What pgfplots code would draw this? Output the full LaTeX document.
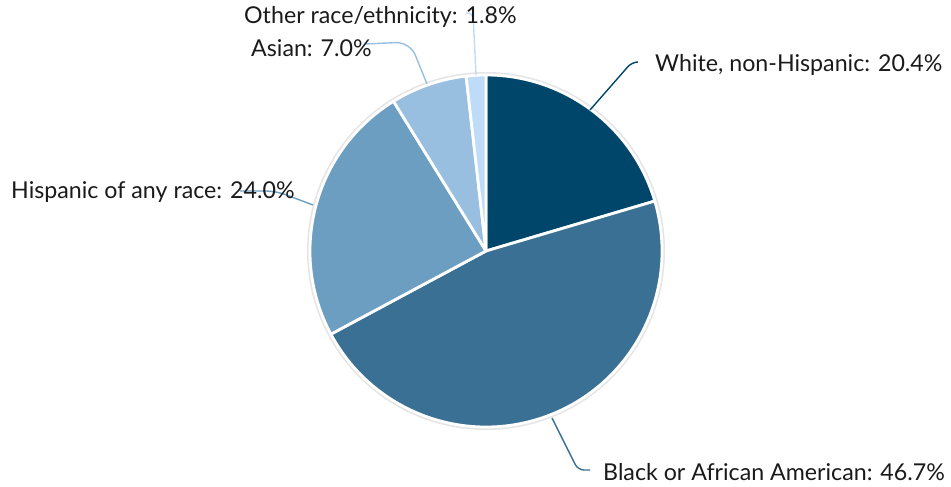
\documentclass[border=0pt]{standalone}
\usepackage{fontspec}
\setmainfont{Lato}
\usepackage{pgfplots}
\pgfplotsset{compat=1.18}
\definecolor{cW}{HTML}{00466A}
\definecolor{cB}{HTML}{3A7094}
\definecolor{cH}{HTML}{6B9EC0}
\definecolor{cA}{HTML}{98BEE0}
\definecolor{cO}{HTML}{BEDCF8}
\definecolor{txt}{HTML}{1A1A1A}
% shares (percent)
\def\vW{20.4}\def\vB{46.7}\def\vH{24.0}\def\vA{7.0}\def\vO{1.8}
\pgfmathsetmacro{\k}{360/(\vW+\vB+\vH+\vA+\vO)}
\pgfmathsetmacro{\aW}{90}
\pgfmathsetmacro{\aB}{\aW-\k*\vW}
\pgfmathsetmacro{\aH}{\aB-\k*\vB}
\pgfmathsetmacro{\aA}{\aH-\k*\vH}
\pgfmathsetmacro{\aO}{\aA-\k*\vA}
\pgfmathsetmacro{\dW}{-\k*\vW}
\pgfmathsetmacro{\dB}{-\k*\vB}
\pgfmathsetmacro{\dH}{-\k*\vH}
\pgfmathsetmacro{\dA}{-\k*\vA}
\pgfmathsetmacro{\dO}{-\k*\vO}
\tikzset{lab/.style={anchor=base west, font=\fontsize{23.2}{27}\selectfont, text=txt, inner sep=0pt}}
\begin{document}
\begin{tikzpicture}
\begin{axis}[
  width=951pt, height=487pt, scale only axis,
  xmin=0, xmax=951, ymin=0, ymax=487, y dir=reverse,
  axis lines=none, clip=false,
]
\path (axis cs:0,0) rectangle (axis cs:951,487);
% shadow
\draw[black!10, line width=3pt] (axis cs:486,251) circle[radius=177.5pt];
% slices
\fill[cW, draw=white, line width=2.8pt, line join=round] (axis cs:486,251) -- ++(\aW:176pt)
  arc[start angle=\aW, delta angle=\dW, radius=176pt] -- cycle;
\fill[cB, draw=white, line width=2.8pt, line join=round] (axis cs:486,251) -- ++(\aB:176pt)
  arc[start angle=\aB, delta angle=\dB, radius=176pt] -- cycle;
\fill[cH, draw=white, line width=2.8pt, line join=round] (axis cs:486,251) -- ++(\aH:176pt)
  arc[start angle=\aH, delta angle=\dH, radius=176pt] -- cycle;
\fill[cA, draw=white, line width=2.8pt, line join=round] (axis cs:486,251) -- ++(\aA:176pt)
  arc[start angle=\aA, delta angle=\dA, radius=176pt] -- cycle;
\fill[cO, draw=white, line width=2.8pt, line join=round] (axis cs:486,251) -- ++(\aO:176pt)
  arc[start angle=\aO, delta angle=\dO, radius=176pt] -- cycle;
% leader lines
\draw[cW, line width=1.4pt, rounded corners=6pt] (axis cs:590,110) -- (axis cs:632,62) -- (axis cs:638,62);
\draw[cB, line width=1.4pt, rounded corners=6pt] (axis cs:552,418) -- (axis cs:578,470) -- (axis cs:590,470);
\draw[cH, line width=1.4pt, rounded corners=10pt] (axis cs:313,205) -- (axis cs:276,191) -- (axis cs:240,191);
\draw[cA, line width=1.4pt, rounded corners=14pt] (axis cs:427,84) -- (axis cs:410,42) -- (axis cs:365,44);
\draw[cO, line width=1.4pt, rounded corners=5pt] (axis cs:476,75) -- (axis cs:473,13) -- (axis cs:466,13);
% labels
\node[lab] at (axis cs:655,71) {White, non-Hispanic: \vW\%};
\node[lab] at (axis cs:603,480) {Black or African American: \vB\%};
\node[lab] at (axis cs:11,198) {Hispanic of any race: \vH\%};
\node[lab] at (axis cs:251,57) {Asian: \vA\%};
\node[lab] at (axis cs:244,24) {Other race/ethnicity: \vO\%};
\end{axis}
\end{tikzpicture}
\end{document}
